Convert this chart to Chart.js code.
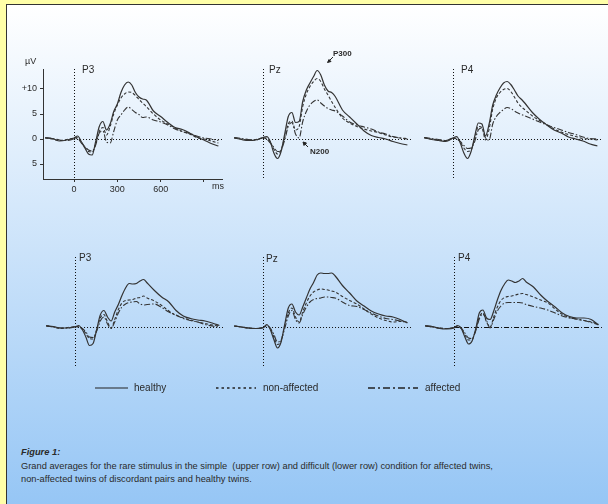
<!DOCTYPE html>
<html>
<head>
<meta charset="utf-8">
<script src="https://cdn.jsdelivr.net/npm/chart.js@4.4.1/dist/chart.umd.min.js"></script>
<style>
    html, body { margin: 0; padding: 0; width: 608px; height: 504px; overflow: hidden; background: #ffffa8; font-family: "Liberation Sans", Arial, sans-serif; color: #2a2a2a; }
    #frame { position: absolute; left: 6px; top: 4px; width: 602px; height: 500px; border-left: 1px solid #333; border-top: 1px solid #333; box-sizing: border-box; background: linear-gradient(#ffffff, #96c6f5); }
    canvas.panel { position: absolute; }
    .txt { position: absolute; font-size: 10px; line-height: 10px; white-space: nowrap; }
    .note { position: absolute; font-size: 8px; line-height: 8px; font-weight: bold; }
    svg { position: absolute; overflow: visible; }
</style>
</head>
<body>
<div id="frame"></div>

<canvas class="panel" id="p3Up" width="230" height="140" style="left:3px;top:60px"></canvas>
<canvas class="panel" id="pzUp" width="230" height="140" style="left:192px;top:60px"></canvas>
<canvas class="panel" id="p4Up" width="230" height="140" style="left:382px;top:60px"></canvas>
<canvas class="panel" id="p3Low" width="230" height="140" style="left:4px;top:248px"></canvas>
<canvas class="panel" id="pzLow" width="230" height="140" style="left:192px;top:248px"></canvas>
<canvas class="panel" id="p4Low" width="230" height="140" style="left:383px;top:248px"></canvas>

<div class="txt" style="left:25px;top:56px;font-size:9px">µV</div>
<div class="txt" style="left:212px;top:181px;font-size:9px">ms</div>

<div class="txt" style="left:82px;top:65px">P3</div>
<div class="txt" style="left:269px;top:65px">Pz</div>
<div class="txt" style="left:461px;top:65px">P4</div>
<div class="txt" style="left:79px;top:253px">P3</div>
<div class="txt" style="left:266px;top:254px">Pz</div>
<div class="txt" style="left:458px;top:253px">P4</div>

<div class="note" style="left:333px;top:50px">P300</div>
<div class="note" style="left:310px;top:148px">N200</div>
<svg width="10" height="10" style="left:326px;top:55px"><path d="M7,2 L3,6 M1.5,7.5 L5,6.5 L3,4.5 Z" stroke="#222" fill="#222" stroke-width="1"/></svg>
<svg width="10" height="10" style="left:300px;top:139px"><path d="M8,8 L5,5 M3,3 L6.5,4 L4,6.5 Z" stroke="#222" fill="#222" stroke-width="1"/></svg>

<svg width="340" height="6" style="left:94px;top:385px">
    <line x1="1" y1="3" x2="34" y2="3" stroke="#222" stroke-width="1.2"/>
    <line x1="122" y1="3" x2="162" y2="3" stroke="#222" stroke-width="1.5" stroke-dasharray="2.5,3"/>
    <line x1="274" y1="3" x2="324" y2="3" stroke="#222" stroke-width="1.5" stroke-dasharray="7,3,2,3"/>
</svg>
<div class="txt" style="left:134px;top:383px">healthy</div>
<div class="txt" style="left:263px;top:383px">non-affected</div>
<div class="txt" style="left:425px;top:383px">affected</div>

<div class="txt" style="left:21px;top:447px;font-size:9.3px;font-weight:bold;font-style:italic">Figure 1:</div>
<div class="txt" style="left:21px;top:460px;font-size:9.3px;line-height:13px">Grand averages for the rare stimulus in the simple&nbsp; (upper row) and difficult (lower row) condition for affected twins,<br>non-affected twins of discordant pairs and healthy twins.</div>

<script>
// time points (ms)
const times = [-200, -150, -100, -50, 0, 25, 50, 75, 100, 125, 150, 175, 200, 225, 250, 275, 300, 325, 350, 375, 400, 425, 450, 475, 500, 550, 600, 650, 700, 750, 800, 850, 900, 950, 1000];

// upper row (simple condition), µV
const p3UpHealthy  = [0.2, 0.1, -0.4, -0.2, 0.2, 0.6, -0.5, -1.8, -3.0, -3.2, -0.5, 2.5, 3.5, 1.8, 3.0, 5.5, 7.0, 9.3, 10.8, 11.4, 10.8, 9.3, 8.4, 8.0, 7.8, 5.6, 4.5, 3.3, 2.3, 1.9, 1.2, 0.4, -0.2, -0.9, -1.4];
const p3UpNonAff   = [0.2, 0.0, -0.3, -0.1, 0.2, 0.3, -0.6, -1.6, -2.5, -2.6, -1.0, 1.5, 2.3, 0.8, 2.5, 5.0, 6.8, 8.2, 9.0, 9.4, 9.3, 8.7, 7.9, 7.2, 6.5, 5.0, 3.8, 3.0, 2.2, 1.5, 1.0, 0.3, 0.0, -0.4, -0.8];
const p3UpAffected = [0.3, 0.1, -0.2, -0.3, 0.0, 0.1, -0.8, -1.5, -2.2, -2.4, -1.2, 1.2, 1.6, -0.6, -0.8, 1.5, 3.8, 4.8, 5.8, 6.4, 5.9, 5.3, 4.9, 4.3, 4.4, 3.8, 3.4, 2.8, 2.0, 1.5, 1.1, 0.6, 0.2, 0.0, -0.3];

const pzUpHealthy  = [0.2, -0.1, -0.3, -0.2, 0.3, 0.5, -0.5, -2.8, -3.9, -2.5, 1.0, 4.5, 5.3, 3.3, 3.5, 7.5, 9.8, 11.2, 12.5, 13.7, 12.8, 10.8, 9.6, 9.3, 8.5, 5.8, 4.4, 3.0, 1.6, 0.7, 0.3, 0.0, -0.5, -0.9, -1.2];
const pzUpNonAff   = [0.2, 0.0, -0.2, -0.1, 0.2, 0.2, -0.6, -2.0, -3.0, -2.2, 0.3, 3.0, 3.6, 1.8, 2.5, 6.5, 9.0, 10.5, 11.5, 12.1, 11.5, 10.0, 8.8, 7.5, 6.3, 4.2, 3.2, 2.5, 2.0, 1.6, 1.3, 0.8, 0.4, 0.2, 0.1];
const pzUpAffected = [0.3, 0.1, -0.1, -0.2, 0.2, 0.0, -0.8, -1.7, -2.5, -2.2, -0.2, 2.5, 3.3, 1.0, 0.2, 3.5, 5.5, 6.8, 7.5, 7.8, 7.2, 6.6, 6.1, 5.8, 5.6, 4.6, 3.4, 2.8, 2.4, 2.0, 1.4, 1.0, 0.5, 0.2, 0.0];

const p4UpHealthy  = [0.3, -0.1, -0.3, -0.5, 0.2, 0.5, -0.8, -2.8, -3.9, -2.5, 0.5, 3.2, 3.0, 0.6, 3.0, 6.8, 8.8, 10.2, 11.2, 11.5, 10.9, 9.8, 8.6, 7.9, 7.1, 5.3, 3.9, 2.8, 1.8, 1.2, 0.4, 0.0, -0.4, -1.0, -1.4];
const p4UpNonAff   = [0.2, 0.0, -0.2, -0.3, 0.1, 0.2, -0.6, -1.8, -2.5, -2.2, 0.0, 2.5, 2.3, -0.2, 2.0, 6.0, 8.2, 9.3, 9.9, 10.1, 9.5, 8.4, 7.2, 6.4, 5.8, 4.6, 3.7, 2.9, 2.0, 1.4, 0.9, 0.5, 0.1, 0.0, -0.2];
const p4UpAffected = [0.3, 0.1, -0.1, -0.3, 0.2, 0.0, -0.5, -1.3, -1.9, -1.8, -0.5, 1.8, 2.2, 0.2, -0.2, 3.0, 4.5, 5.3, 5.9, 6.3, 6.1, 5.6, 5.2, 4.9, 4.6, 4.0, 3.4, 2.8, 2.3, 1.8, 1.3, 0.9, 0.4, 0.1, 0.0];

// lower row (difficult condition), µV
const p3LowHealthy  = [0.2, 0.1, -0.2, -0.2, 0.0, 0.3, -0.5, -2.0, -3.7, -3.3, -0.5, 2.4, 3.3, 2.0, 1.2, 3.0, 4.5, 6.3, 7.8, 8.7, 8.6, 8.7, 9.2, 9.5, 8.8, 7.3, 6.0, 5.0, 3.3, 2.2, 1.7, 1.4, 1.2, 0.8, 0.3];
const p3LowNonAff   = [0.3, 0.0, -0.3, -0.1, 0.0, 0.1, -0.4, -1.3, -2.3, -2.4, -0.6, 1.8, 2.5, 1.0, -0.2, 1.5, 3.5, 4.8, 5.3, 5.4, 5.5, 5.8, 5.9, 6.2, 5.8, 5.2, 4.3, 3.2, 2.3, 1.8, 1.4, 1.0, 0.7, 0.4, 0.2];
const p3LowAffected = [0.2, 0.0, -0.2, -0.2, 0.1, 0.0, -0.3, -1.0, -2.0, -2.1, -0.8, 1.2, 2.0, 0.6, -0.3, 1.0, 2.8, 4.0, 4.6, 4.9, 5.0, 5.1, 4.6, 4.4, 4.5, 4.6, 3.9, 3.0, 2.4, 1.7, 1.3, 1.0, 0.5, 0.2, 0.0];

const pzLowHealthy  = [0.2, 0.0, -0.2, -0.3, -0.2, 0.5, -0.5, -2.5, -4.2, -3.0, 0.5, 3.8, 4.6, 3.0, 2.4, 4.0, 5.8, 7.6, 8.9, 10.4, 10.8, 10.7, 10.7, 10.8, 10.2, 8.3, 6.8, 5.2, 4.2, 3.2, 2.6, 2.2, 2.0, 1.5, 0.8];
const pzLowNonAff   = [0.2, 0.0, -0.2, -0.3, -0.1, 0.3, -0.3, -2.0, -3.5, -2.8, 0.2, 2.8, 3.8, 2.0, 1.0, 3.0, 4.8, 6.2, 7.0, 7.4, 7.6, 7.5, 7.4, 7.2, 7.0, 6.1, 5.3, 4.6, 3.6, 2.6, 1.8, 1.3, 1.0, 1.1, 1.0];
const pzLowAffected = [0.2, 0.0, -0.2, -0.3, -0.1, 0.2, -0.2, -1.5, -3.0, -2.6, -0.3, 2.2, 3.3, 1.5, 0.8, 2.5, 4.0, 5.0, 5.5, 5.7, 5.8, 6.0, 6.0, 5.9, 5.8, 5.0, 4.3, 4.1, 3.5, 2.8, 2.2, 1.7, 1.5, 1.2, 0.9];

const p4LowHealthy  = [0.3, 0.1, -0.3, -0.4, -0.2, 0.3, -0.3, -2.0, -3.4, -2.8, -0.4, 2.8, 3.4, 1.8, 1.5, 3.2, 5.4, 7.3, 8.6, 9.4, 9.2, 8.9, 9.2, 9.7, 9.0, 8.0, 6.4, 5.1, 4.0, 2.8, 2.1, 1.8, 1.8, 1.5, 0.4];
const p4LowNonAff   = [0.2, 0.0, -0.2, -0.3, -0.1, 0.2, -0.3, -1.5, -2.6, -2.5, -0.6, 2.0, 2.8, 1.0, 0.0, 2.0, 4.0, 5.3, 5.9, 6.1, 6.2, 6.4, 6.6, 6.7, 6.5, 6.0, 5.4, 4.8, 3.6, 2.5, 1.9, 1.5, 1.3, 1.0, 0.6];
const p4LowAffected = [0.2, 0.0, -0.2, -0.3, -0.1, 0.1, -0.2, -1.2, -2.2, -2.3, -0.8, 1.6, 2.6, 1.3, -0.2, 1.5, 3.2, 4.2, 4.8, 4.9, 4.9, 4.9, 4.9, 4.8, 4.5, 4.1, 3.8, 3.4, 2.8, 2.2, 1.8, 1.6, 1.3, 0.9, 0.5];

// axis ticks of the first panel
const xTicks = [0, 300, 600, 900];
const xTickLabels = ['0', '300', '600', ''];
const yTicks = [-5, 0, 5, 10];
const yTickLabels = ['5', '0', '5', '+10'];

const lineColor = '#333333';

function toPoints(values) {
    return times.map((t, i) => ({ x: t, y: values[i] }));
}

// dotted stimulus onset line and zero baseline
const refLines = {
    id: 'refLines',
    beforeDatasetsDraw(chart, args, opts) {
        const { ctx, chartArea, scales } = chart;
        const x0 = scales.x.getPixelForValue(0);
        const y0 = scales.y.getPixelForValue(0);
        ctx.save();
        ctx.strokeStyle = '#111';
        ctx.lineWidth = 1;
        ctx.setLineDash([1, 2]);
        ctx.beginPath();
        ctx.moveTo(Math.round(x0) + 0.5, chartArea.top);
        ctx.lineTo(Math.round(x0) + 0.5, chartArea.bottom);
        ctx.stroke();
        ctx.setLineDash(opts.baseDash || [1, 2]);
        ctx.beginPath();
        ctx.moveTo(x0, Math.round(y0) + 0.5);
        ctx.lineTo(chartArea.right, Math.round(y0) + 0.5);
        ctx.stroke();
        ctx.restore();
    }
};

function makePanel(id, healthy, nonAff, affected, withAxes, baseDash) {
    const canvas = document.getElementById(id);
    new Chart(canvas.getContext('2d'), {
        type: 'line',
        data: {
            datasets: [
                { label: 'healthy', data: toPoints(healthy), borderDash: [], borderWidth: 1.2 },
                { label: 'non-affected', data: toPoints(nonAff), borderDash: [3, 2], borderWidth: 1.1 },
                { label: 'affected', data: toPoints(affected), borderDash: [6, 2, 1.5, 2], borderWidth: 1.1 }
            ]
        },
        options: {
            responsive: false,
            animation: false,
            events: [],
            layout: {
                padding: withAxes ? { left: 0, top: 9, right: 11, bottom: 0 } : { left: 40, top: 9, right: 11, bottom: 21 }
            },
            elements: {
                point: { radius: 0 },
                line: { borderColor: lineColor, cubicInterpolationMode: 'monotone' }
            },
            plugins: {
                legend: { display: false },
                tooltip: { enabled: false },
                refLines: { baseDash: baseDash }
            },
            scales: {
                x: {
                    type: 'linear',
                    min: -215,
                    max: 1025,
                    display: withAxes,
                    afterBuildTicks: s => { s.ticks = xTicks.map(v => ({ value: v })); },
                    afterFit: s => { s.height = withAxes ? 21 : 0; },
                    ticks: {
                        font: { size: 9, family: 'Liberation Sans' },
                        color: '#2a2a2a',
                        maxRotation: 0,
                        padding: 2,
                        callback: v => xTickLabels[xTicks.indexOf(v)]
                    },
                    grid: { drawOnChartArea: false, tickLength: 3, color: '#333' },
                    border: { color: '#333' }
                },
                y: {
                    min: -8,
                    max: 14,
                    display: withAxes,
                    afterBuildTicks: s => { s.ticks = yTicks.map(v => ({ value: v })); },
                    afterFit: s => { s.width = withAxes ? 40 : 0; },
                    ticks: {
                        font: { size: 9, family: 'Liberation Sans' },
                        color: '#2a2a2a',
                        padding: 3,
                        callback: v => yTickLabels[yTicks.indexOf(v)]
                    },
                    grid: { drawOnChartArea: false, tickLength: 3, color: '#333' },
                    border: { color: '#333' }
                }
            }
        },
        plugins: [refLines]
    });
}

makePanel('p3Up', p3UpHealthy, p3UpNonAff, p3UpAffected, true);
makePanel('pzUp', pzUpHealthy, pzUpNonAff, pzUpAffected, false);
makePanel('p4Up', p4UpHealthy, p4UpNonAff, p4UpAffected, false);
makePanel('p3Low', p3LowHealthy, p3LowNonAff, p3LowAffected, false);
makePanel('pzLow', pzLowHealthy, pzLowNonAff, pzLowAffected, false);
makePanel('p4Low', p4LowHealthy, p4LowNonAff, p4LowAffected, false, [5, 2, 1, 2]);
</script>
</body>
</html>
